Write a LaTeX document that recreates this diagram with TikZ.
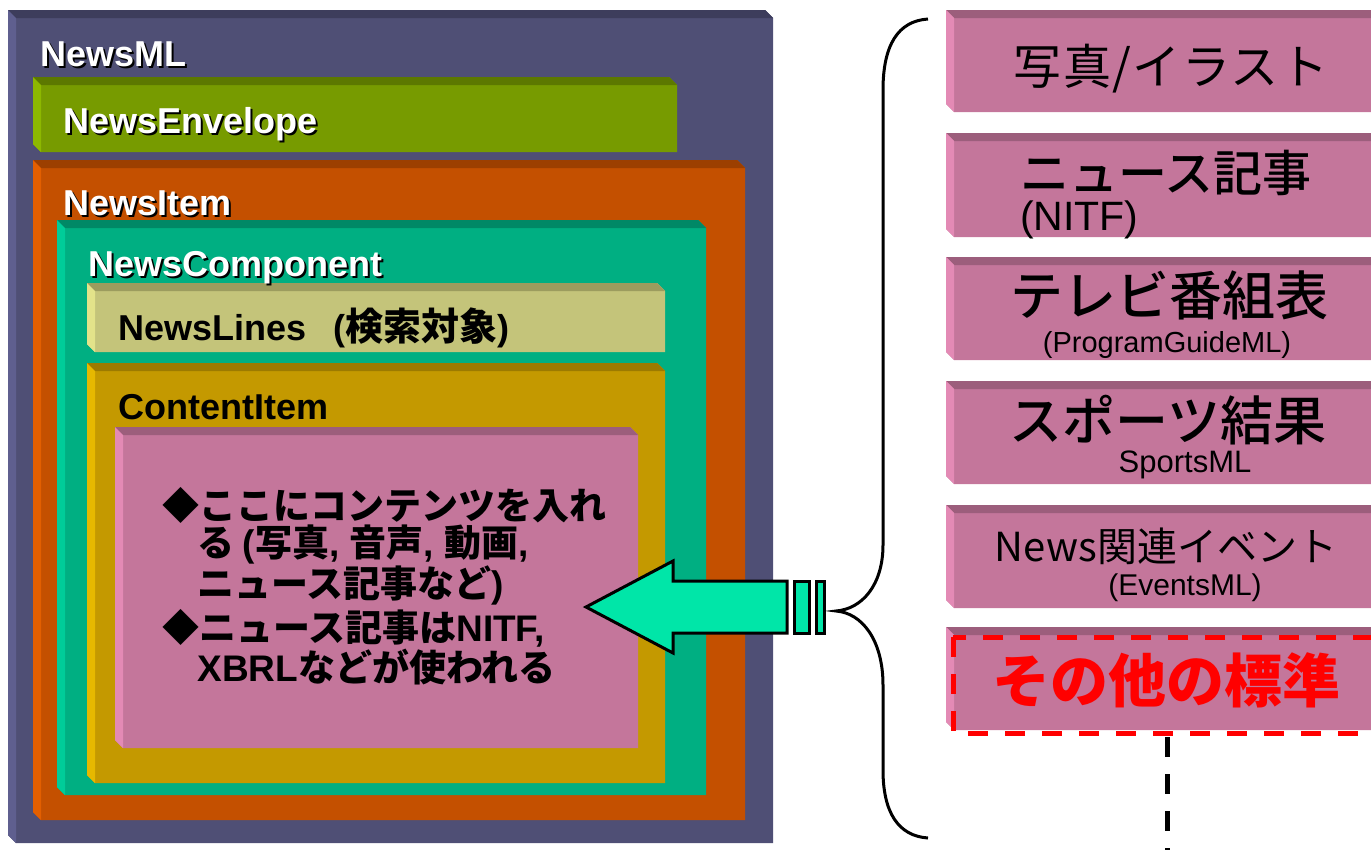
\documentclass[tikz,border=0pt]{standalone}
\usepackage{fontspec}
\setmainfont{Liberation Sans}
\newfontfamily\cjk{Noto Sans CJK JP}
\newfontfamily\cjkm{Noto Sans CJK JP Medium}
\definecolor{mlF}{HTML}{4F4F75}\definecolor{mlT}{HTML}{3D3D5C}\definecolor{mlL}{HTML}{5F5F8F}
\definecolor{enF}{HTML}{779B00}\definecolor{enT}{HTML}{5C7800}\definecolor{enL}{HTML}{8DB800}
\definecolor{itF}{HTML}{C45000}\definecolor{itT}{HTML}{9C3F00}\definecolor{itL}{HTML}{E35F00}
\definecolor{coF}{HTML}{00AF82}\definecolor{coT}{HTML}{008866}\definecolor{coL}{HTML}{00CC99}
\definecolor{liF}{HTML}{C4C47A}\definecolor{liT}{HTML}{9C9C5E}\definecolor{liL}{HTML}{E3E38A}
\definecolor{ciF}{HTML}{C49900}\definecolor{ciT}{HTML}{9C7A00}\definecolor{ciL}{HTML}{E6B800}
\definecolor{pkF}{HTML}{C4769B}\definecolor{pkT}{HTML}{9C5E7C}\definecolor{pkL}{HTML}{E38AB5}
\definecolor{arrF}{HTML}{00E6A8}
\newcommand\bevbox[7]{%
  \fill[#5] (#1,#2) -- (#3-8,#2) -- (#3,#2+8) -- (#3,#4) -- (#1+8,#4) -- (#1,#4-8) -- cycle;
  \fill[#6] (#1,#2) -- (#3-8,#2) -- (#3,#2+8) -- (#1+8,#2+8) -- cycle;
  \fill[#7] (#1,#2) -- (#1+8,#2+8) -- (#1+8,#4) -- (#1,#4-8) -- cycle;
}
\newcommand\lat[1]{{\rmfamily\bfseries #1}}
\newcommand\wlabel[4]{%
  \node[hd,text=black] (#1s) at (#2+2,#3+2) {#4};
  \node[hd,text=white] (#1) at (#2,#3) {#4};
}
\tikzset{
  hd/.style={anchor=base west,inner sep=0pt,font=\fontsize{36}{40}\selectfont\bfseries},
  body/.style={anchor=base west,inner sep=0pt,align=left,font=\fontsize{37}{37}\selectfont\cjk\bfseries},
  big/.style={anchor=base,inner sep=0pt},
  sub/.style={anchor=base,inner sep=0pt},
}
\begin{document}
\begin{tikzpicture}[x=1pt,y=-1pt]
\useasboundingbox (0,0) rectangle (1371,849);
\clip (0,0) rectangle (1371,849);
% left nested boxes
\bevbox{8}{10}{773}{843}{mlF}{mlT}{mlL}
\bevbox{33}{77}{677}{152}{enF}{enT}{enL}
\bevbox{33}{160}{745}{820}{itF}{itT}{itL}
\bevbox{57}{220}{706}{795}{coF}{coT}{coL}
\bevbox{87}{283}{665}{352}{liF}{liT}{liL}
\bevbox{87}{363}{665}{783}{ciF}{ciT}{ciL}
\bevbox{115}{427}{638}{748}{pkF}{pkT}{pkL}
\wlabel{tml}{40}{66}{NewsML}
\wlabel{tenv}{63}{133}{NewsEnvelope}
\wlabel{titem}{63}{215}{NewsItem}
\wlabel{tcomp}{88}{276}{NewsComponent}
\node[hd] (tlines) at (118,340) {NewsLines\hspace{0.75em}(\fontsize{38}{40}\selectfont\cjk 検索対象\rmfamily\fontsize{36}{40}\selectfont)};
\node[hd] (tci) at (118,419) {ContentItem};
\node[body] (cbody) at (162,681) {◆ここにコンテンツを入れ\\
\hspace*{0.95em}る \lat{(}写真\lat{, }音声\lat{, }動画\lat{,}\\
\hspace*{0.95em}ニュース記事など\lat{)}\\[4pt]
◆ニュース記事は\lat{NITF,}\\
\hspace*{0.95em}\lat{XBRL}などが使われる};
% arrow
\draw[line width=3pt,fill=arrF,line join=miter] (586,607) -- (673,561) -- (673,581) -- (787,581) -- (787,633) -- (673,633) -- (673,653) -- cycle;
\draw[line width=3pt,fill=arrF] (794,581) rectangle (809,633);
\draw[line width=3pt,fill=arrF] (816,581) rectangle (824,633);
% brace
\draw[line width=3pt] (928,19) .. controls (898,21) and (883,45) .. (883,90) -- (883,545)
  .. controls (883,585) and (862,609) .. (836,611)
  .. controls (862,613) and (883,640) .. (883,685) -- (883,770)
  .. controls (883,812) and (898,836) .. (928,838);
% right column boxes
\bevbox{946}{10}{1390}{112}{pkF}{pkT}{pkL}
\bevbox{946}{133}{1390}{237}{pkF}{pkT}{pkL}
\bevbox{946}{257}{1390}{360}{pkF}{pkT}{pkL}
\bevbox{946}{381}{1390}{484}{pkF}{pkT}{pkL}
\bevbox{946}{505}{1390}{608}{pkF}{pkT}{pkL}
\bevbox{946}{627}{1390}{730}{pkF}{pkT}{pkL}
\node[big,font=\fontsize{48}{52}\selectfont\cjk\addfontfeature{LetterSpace=3}] (r1) at (1171,84) {写真/イラスト};
\node[anchor=base west,inner sep=0pt,font=\fontsize{49}{52}\selectfont\cjkm] (r2) at (1020,191) {ニュース記事};
\node[anchor=base west,inner sep=0pt,font=\fontsize{41}{44}\selectfont] (r2s) at (1020,230) {(NITF)};
\node[big,font=\fontsize{53}{56}\selectfont\cjkm] (r3) at (1169,315) {テレビ番組表};
\node[sub,font=\fontsize{29}{32}\selectfont] (r3s) at (1167,352) {(ProgramGuideML)};
\node[big,font=\fontsize{53}{56}\selectfont\cjkm] (r4) at (1168,440) {スポーツ結果};
\node[sub,font=\fontsize{31}{34}\selectfont] (r4s) at (1185,472) {SportsML};
\node[big,font=\fontsize{40}{44}\selectfont\cjk] (r5) at (1166,561) {News関連イベント};
\node[sub,font=\fontsize{30}{33}\selectfont] (r5s) at (1185,595) {(EventsML)};
\node[big,font=\fontsize{58}{62}\selectfont\cjk\bfseries,text=red] (r6) at (1166,702) {その他の標準};
\draw[red,line width=5pt,dash pattern=on 20pt off 17pt] (953,637) rectangle (1400,733);
\coordinate (dtop) at (1167,737);
\coordinate (dbot) at (1167,852);
\draw[line width=5pt,dash pattern=on 20pt off 17pt] (dtop) -- (dbot);
\end{tikzpicture}
\end{document}
